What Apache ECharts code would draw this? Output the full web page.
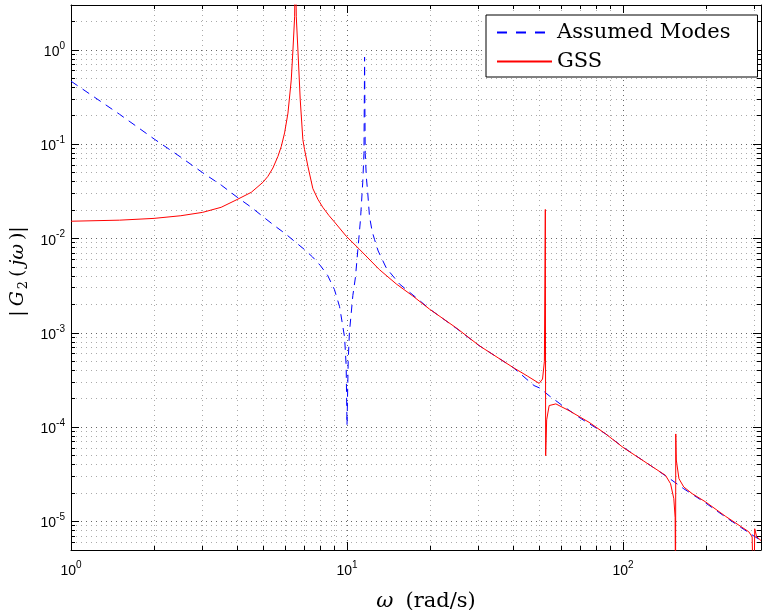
<!DOCTYPE html>
<html><head><meta charset="utf-8">
<script src="https://cdn.jsdelivr.net/npm/echarts@6/dist/echarts.min.js"></script>
<style>html,body{margin:0;padding:0;background:#fff}#c{width:762px;height:610px}</style>
</head><body><div id="c"></div>
<script>
// ---- data ----
const omegaAM = [1, 1.5, 2, 2.5, 3, 3.5, 4, 4.5, 5, 5.5, 6, 6.5, 7, 7.5, 8, 8.5, 9, 9.4, 9.8, 9.93, 10.0, 10.1, 10.2, 10.5, 10.73, 11.03, 11.19, 11.4, 11.52, 11.58, 11.64, 11.75, 11.89, 12.06, 12.33, 12.58, 12.97, 13.87, 15.5, 17.8, 20, 25, 30, 40, 47.6, 50, 54, 60, 70, 86.6, 100, 128, 149, 166, 199, 235, 290, 316.2];
const magAM = [0.467, 0.208, 0.114, 0.073, 0.050, 0.037, 0.0275, 0.0215, 0.0168, 0.0135, 0.0112, 0.0092, 0.0077, 0.0064, 0.0052, 0.0041, 0.0029, 0.0019, 0.0009, 0.00045, 0.000105, 0.0005, 0.001, 0.0025, 0.0039, 0.0098, 0.016, 0.039, 0.08, 0.84, 0.08, 0.045, 0.0305, 0.0173, 0.012, 0.0098, 0.0074, 0.0049, 0.0033, 0.00237, 0.00178, 0.00111, 0.00074, 0.00043, 0.000277, 0.00026, 0.000216, 0.000172, 0.000125, 0.000085, 0.0000616, 0.000038, 0.000028, 0.0000223, 0.0000158, 0.0000112, 0.0000074, 0.0000063];

const omegaGSS = [1, 1.5, 2, 2.5, 3, 3.5, 4, 4.5, 4.96, 5.17, 5.39, 5.62, 5.78, 5.94, 6.11, 6.28, 6.37, 6.46, 6.5, 6.55, 6.64, 6.77, 6.92, 7.02, 7.22, 7.52, 7.84, 8.17, 8.6, 9.01, 9.94, 11.1, 13.1, 15.1, 17.3, 19.9, 25, 30.2, 40, 45, 49.7, 51.1, 51.9, 52.3, 52.45, 52.9, 54, 57.1, 63.8, 75.3, 86.6, 100, 128, 142.6, 148.7, 152.8, 154.5, 155.0, 155.3, 156, 159.5, 166, 178, 199, 235, 270, 285.6, 293.7, 297.8, 300, 305, 316.2];
const magGSS = [0.0153, 0.0157, 0.0164, 0.0175, 0.019, 0.0215, 0.026, 0.031, 0.0396, 0.0458, 0.0561, 0.0745, 0.095, 0.132, 0.214, 0.48, 1.0, 2.25, 10, 2.25, 1.0, 0.296, 0.112, 0.0877, 0.058, 0.034, 0.0262, 0.0215, 0.0176, 0.0150, 0.0106, 0.0077, 0.0047, 0.0033, 0.00247, 0.00179, 0.00112, 0.00073, 0.00043, 0.00035, 0.000292, 0.000325, 0.0005, 0.0204, 0.00005, 0.00012, 0.00017, 0.000177, 0.00015, 0.000113, 0.000085, 0.0000612, 0.000038, 0.0000309, 0.0000252, 0.0000175, 0.000011, 0.000001, 0.000085, 0.000045, 0.0000285, 0.0000233, 0.0000198, 0.0000162, 0.0000114, 0.0000087, 0.0000078, 0.0000069, 0.000001, 0.0000084, 0.0000069, 0.0000063];

const xRange = [1, 316.2];
const yRange = [5e-6, 3];
const xMinorTicks = [2, 3, 4, 5, 6, 7, 8, 9, 20, 30, 40, 50, 60, 70, 80, 90, 200, 300];
const yMinorTicks = [6e-6, 7e-6, 8e-6, 9e-6,
  2e-5, 3e-5, 4e-5, 5e-5, 6e-5, 7e-5, 8e-5, 9e-5,
  2e-4, 3e-4, 4e-4, 5e-4, 6e-4, 7e-4, 8e-4, 9e-4,
  2e-3, 3e-3, 4e-3, 5e-3, 6e-3, 7e-3, 8e-3, 9e-3,
  0.02, 0.03, 0.04, 0.05, 0.06, 0.07, 0.08, 0.09,
  0.2, 0.3, 0.4, 0.5, 0.6, 0.7, 0.8, 0.9, 2];
const seriesNames = ['Assumed Modes', 'GSS'];

// ---- helpers ----
function powLabel(v) {
  const l = Math.log10(v), e = Math.round(l);
  if (Math.abs(l - e) > 1e-6) return '';
  return '{b|10}{s|' + (e < 0 ? '-' + (-e) : e) + '}';
}
const tickRich = {
  b: {fontFamily: 'Liberation Sans', fontSize: 14, color: '#000', lineHeight: 18, verticalAlign: 'bottom'},
  s: {fontFamily: 'Liberation Sans', fontSize: 10, color: '#000', lineHeight: 8, verticalAlign: 'top'}
};
const MAJOR_GRID = '#666', MINOR_GRID = '#aaa';
function crisp(v) { return Math.round(v - 0.5) + 0.5; }

function renderXMinor(params, api) {
  const cs = params.coordSys;
  const x = crisp(api.coord([api.value(0), api.value(1)])[0]);
  const top = cs.y, bottom = cs.y + cs.height;
  return {type: 'group', children: [
    {type: 'line', shape: {x1: x, y1: top, x2: x, y2: bottom}, style: {stroke: MINOR_GRID, lineWidth: 1, lineDash: [1, 4]}},
    {type: 'line', shape: {x1: x, y1: bottom, x2: x, y2: bottom - 4}, style: {stroke: '#000', lineWidth: 1}},
    {type: 'line', shape: {x1: x, y1: top, x2: x, y2: top + 4}, style: {stroke: '#000', lineWidth: 1}}
  ]};
}
function renderYMinor(params, api) {
  const cs = params.coordSys;
  const y = crisp(api.coord([api.value(0), api.value(1)])[1]);
  const left = cs.x, right = cs.x + cs.width;
  return {type: 'group', children: [
    {type: 'line', shape: {x1: left, y1: y, x2: right, y2: y}, style: {stroke: MINOR_GRID, lineWidth: 1, lineDash: [1, 4]}},
    {type: 'line', shape: {x1: left, y1: y, x2: left + 4, y2: y}, style: {stroke: '#000', lineWidth: 1}},
    {type: 'line', shape: {x1: right, y1: y, x2: right - 4, y2: y}, style: {stroke: '#000', lineWidth: 1}}
  ]};
}

const axisCommon = {
  type: 'log', logBase: 10,
  axisLine: {show: true, lineStyle: {color: '#000', width: 1}},
  axisTick: {show: true, inside: true, length: 8, lineStyle: {color: '#000', width: 1}},
  minorTick: {show: false}, minorSplitLine: {show: false}
};

const chart = echarts.init(document.getElementById('c'), null, {renderer: 'canvas'});
chart.setOption({
  animation: false,
  backgroundColor: '#fff',
  grid: {left: 71, right: 1, top: 5, bottom: 60, containLabel: false, outerBoundsMode: 'none'},
  legend: {
    data: [{name: seriesNames[0], lineStyle: {type: [10, 9]}}, {name: seriesNames[1]}],
    orient: 'vertical', left: 486, top: 15,
    itemWidth: 55, itemHeight: 14, itemGap: 8, padding: [7, 27, 5, 10],
    itemStyle: {opacity: 0, borderWidth: 0},
    backgroundColor: '#fff', borderColor: '#000', borderWidth: 1, borderRadius: 0,
    textStyle: {fontFamily: 'DejaVu Serif', fontSize: 21, color: '#000'}
  },
  xAxis: [
    Object.assign({}, axisCommon, {
      min: xRange[0], max: xRange[1], position: 'bottom',
      axisLabel: {formatter: powLabel, margin: 10, rich: tickRich},
      splitLine: {show: true, lineStyle: {color: MAJOR_GRID, width: 1, type: [1, 4]}},
      name: '{i|\u03C9}{t|(rad/s)}', nameLocation: 'middle', nameGap: 41,
      nameTextStyle: {fontFamily: 'DejaVu Serif', fontSize: 21, color: '#000', padding: [0, 0, 0, 20],
        rich: {i: {fontFamily: 'DejaVu Serif', fontStyle: 'italic', fontSize: 21, padding: [0, 12, 0, 0]},
               t: {fontFamily: 'DejaVu Serif', fontSize: 21}}}
    }),
    Object.assign({}, axisCommon, {
      min: xRange[0], max: xRange[1], position: 'top',
      axisLabel: {show: false}, splitLine: {show: false}
    })
  ],
  yAxis: [
    Object.assign({}, axisCommon, {
      min: yRange[0], max: yRange[1], position: 'left',
      axisLabel: {formatter: powLabel, margin: 6, rich: tickRich},
      splitLine: {show: true, lineStyle: {color: MAJOR_GRID, width: 1, type: [1, 4]}},
      name: '{t||}{i|G}{sub|2}{t|(}{i|j\u03C9}{t|)|}', nameLocation: 'middle', nameGap: 34, nameRotate: 90,
      nameTextStyle: {fontFamily: 'DejaVu Serif', fontSize: 19, color: '#000', padding: [0, 0, 0, 12],
        rich: {
          t: {fontFamily: 'DejaVu Serif', fontSize: 19, lineHeight: 24, padding: [0, 2, 0, 2]},
          i: {fontFamily: 'DejaVu Serif', fontStyle: 'italic', fontSize: 19, lineHeight: 24, padding: [0, 2, 0, 2]},
          sub: {fontFamily: 'DejaVu Serif', fontSize: 13, lineHeight: 12, verticalAlign: 'bottom', padding: [0, 2, 0, 0]}
        }}
    }),
    Object.assign({}, axisCommon, {
      min: yRange[0], max: yRange[1], position: 'right',
      axisLabel: {show: false}, splitLine: {show: false}
    })
  ],
  series: [
    {type: 'custom', silent: true, xAxisIndex: 0, yAxisIndex: 0, z: 1,
     renderItem: renderXMinor, data: xMinorTicks.map(v => [v, 1e-3])},
    {type: 'custom', silent: true, xAxisIndex: 0, yAxisIndex: 0, z: 1,
     renderItem: renderYMinor, data: yMinorTicks.map(v => [10, v])},
    {name: seriesNames[0], type: 'line', xAxisIndex: 0, yAxisIndex: 0, z: 3,
     data: omegaAM.map((w, i) => [w, magAM[i]]), symbol: 'none', clip: true,
     lineStyle: {color: '#0000ff', width: 1, type: [8, 6]}, itemStyle: {color: '#0000ff'}},
    {name: seriesNames[1], type: 'line', xAxisIndex: 0, yAxisIndex: 0, z: 4,
     data: omegaGSS.map((w, i) => [w, magGSS[i]]), symbol: 'none', clip: true,
     lineStyle: {color: '#ff0000', width: 1}, itemStyle: {color: '#ff0000'}}
  ]
});
</script>
</body></html>
